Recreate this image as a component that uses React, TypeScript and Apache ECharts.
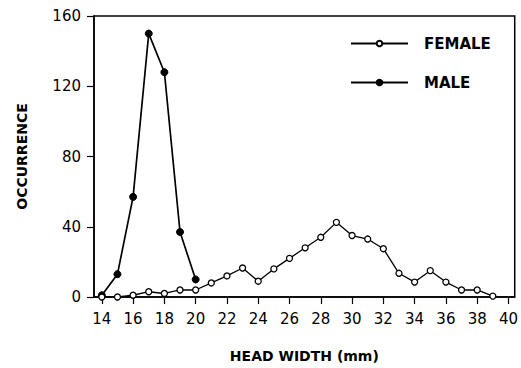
import React, { useEffect, useRef } from "react";
import * as echarts from "echarts";

const femaleWidths = [14, 15, 16, 17, 18, 19, 20, 21, 22, 23, 24, 25, 26, 27, 28, 29, 30, 31, 32, 33, 34, 35, 36, 37, 38, 39];
const femaleCounts = [0, 0, 1, 3, 2, 4, 4, 8, 12, 16.5, 9, 16, 22, 28, 34, 42.5, 35, 33, 27.5, 13.5, 8.5, 15, 8.5, 4, 4, 0.5];
const maleWidths = [14, 15, 16, 17, 18, 19, 20];
const maleCounts = [1, 13, 57, 150, 128, 37, 10];
const xTicks = [14, 16, 18, 20, 22, 24, 26, 28, 30, 32, 34, 36, 38, 40];

const FONT = "DejaVu Sans";

export default function App() {
  const ref = useRef<HTMLDivElement>(null);
  useEffect(() => {
    if (!ref.current) return;
    const chart = echarts.init(ref.current, null, { renderer: "svg" });
    chart.setOption({
      animation: false,
      backgroundColor: "#fff",
      grid: {
        left: 94,
        right: 6,
        top: 16,
        bottom: 68,
        show: true,
        borderColor: "#000",
        borderWidth: 1.5,
        backgroundColor: "transparent",
      },
      legend: {
        orient: "vertical",
        left: 350,
        top: 36,
        padding: 0,
        itemWidth: 57,
        itemHeight: 7,
        itemGap: 24,
        textStyle: {
          fontFamily: FONT,
          fontWeight: "bold",
          fontSize: 15,
          color: "#000",
          padding: [0, 0, 0, 11],
        },
        data: ["FEMALE", "MALE"],
      },
      xAxis: {
        type: "value",
        min: 13.5,
        max: 40.4,
        name: "HEAD WIDTH (mm)",
        nameLocation: "middle",
        nameGap: 52,
        nameTextStyle: { fontFamily: FONT, fontWeight: "bold", fontSize: 14, color: "#000" },
        axisLine: { show: true, onZero: false, lineStyle: { color: "#000", width: 1.5 } },
        axisTick: { show: true, length: 7, customValues: xTicks, lineStyle: { color: "#000", width: 1.2 } },
        axisLabel: { customValues: xTicks, fontFamily: FONT, fontSize: 15, color: "#000", margin: 14 },
        splitLine: { show: false },
      },
      yAxis: {
        type: "value",
        min: 0,
        max: 160,
        interval: 40,
        name: "OCCURRENCE",
        nameLocation: "middle",
        nameGap: 65,
        nameRotate: 90,
        nameTextStyle: { fontFamily: FONT, fontWeight: "bold", fontSize: 14, color: "#000" },
        axisLine: { show: true, lineStyle: { color: "#000", width: 1.5 } },
        axisTick: { show: true, length: 7, lineStyle: { color: "#000", width: 1.2 } },
        axisLabel: { fontFamily: FONT, fontSize: 15, color: "#000", margin: 13 },
        splitLine: { show: false },
      },
      series: [
        {
          name: "FEMALE",
          type: "line",
          data: femaleWidths.map((w, i) => [w, femaleCounts[i]]),
          symbol: "circle",
          symbolSize: 6,
          lineStyle: { color: "#000", width: 1.3 },
          itemStyle: { color: "#fff", borderColor: "#000", borderWidth: 1.3 },
          z: 3,
        },
        {
          name: "MALE",
          type: "line",
          data: maleWidths.map((w, i) => [w, maleCounts[i]]),
          symbol: "circle",
          symbolSize: 7,
          lineStyle: { color: "#000", width: 1.7 },
          itemStyle: { color: "#000", borderColor: "#000", borderWidth: 1 },
          z: 2,
        },
      ],
    });
    return () => chart.dispose();
  }, []);
  return <div ref={ref} style={{ width: 521, height: 368, position: "absolute", left: 0, top: 0 }} />;
}
